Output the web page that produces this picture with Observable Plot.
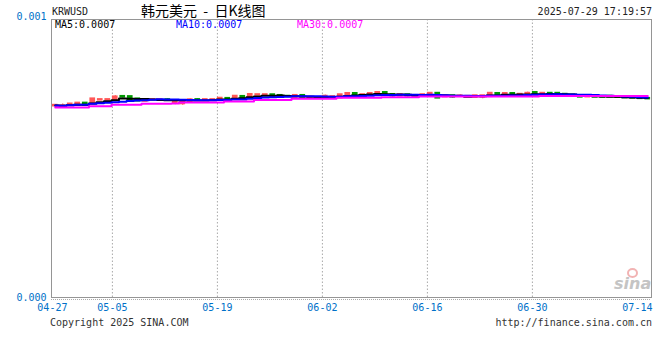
<!DOCTYPE html>
<html><head><meta charset="utf-8">
<script src="https://cdn.jsdelivr.net/npm/d3@7"></script>
<script src="https://cdn.jsdelivr.net/npm/@observablehq/plot@0.6"></script>
<style>
body{margin:0;background:#fff;}
#wrap{position:relative;width:660px;height:360px;overflow:hidden;font-family:"DejaVu Sans Mono",monospace;font-size:10px;color:#222;}
.t{position:absolute;white-space:pre;line-height:12px;}
#chart{position:absolute;left:0;top:0;}
</style></head><body>
<div id="wrap">
  <div id="chart"></div>
  <div class="t" style="left:52px;top:6px;">KRWUSD</div>
  <div class="t" style="left:141px;top:1px;font-family:'Noto Sans CJK SC',sans-serif;font-size:14px;line-height:18px;color:#000;">韩元美元  -  日K线图</div>
  <div class="t" style="right:8px;top:6px;">2025-07-29 17:19:57</div>
  <div class="t" style="left:55px;top:19px;color:#000;">MA5:0.0007</div>
  <div class="t" style="left:176px;top:19px;color:#0000ff;">MA10:0.0007</div>
  <div class="t" style="left:297px;top:19px;color:#ff00ff;">MA30:0.0007</div>
  <div class="t" style="left:50px;top:317px;color:#333;">Copyright 2025 SINA.COM</div>
  <div class="t" style="right:8px;top:317px;color:#333;">http://finance.sina.com.cn</div>
  <div style="position:absolute;left:627px;top:268px;width:7px;height:6px;border:2px solid #f2b3b3;border-radius:50%;"></div>
  <div class="t" style="left:614px;top:276px;font-family:'DejaVu Sans',sans-serif;font-style:italic;font-weight:bold;font-size:16px;line-height:16px;color:#c4c4c4;">sina</div>
</div>
<script>
const dates = [
 "04-27","04-28","04-29","04-30",
 "05-01","05-02","05-03","05-04","05-05","05-06","05-07","05-08","05-09","05-10","05-11","05-12","05-13","05-14","05-15","05-16",
 "05-17","05-18","05-19","05-20","05-21","05-22","05-23","05-24","05-25","05-26","05-27","05-28","05-29","05-30","05-31",
 "06-01","06-02","06-03","06-04","06-05","06-06","06-07","06-08","06-09","06-10","06-11","06-12","06-13","06-14","06-15","06-16",
 "06-17","06-18","06-19","06-20","06-21","06-22","06-23","06-24","06-25","06-26","06-27","06-28","06-29","06-30",
 "07-01","07-02","07-03","07-04","07-05","07-06","07-07","07-08","07-09","07-10","07-11","07-12","07-13","07-14","07-15"
];
const open = [
 0.0006893,0.0006875,0.0006910,0.0006910,0.0006988,0.0006971,0.0007105,0.0007105,0.0007087,0.0007229,
 0.0007222,0.0007140,0.0007062,0.0007105,0.0007105,0.0007112,0.0006988,0.0006971,0.0007062,0.0007115,
 0.0007105,0.0007105,0.0007087,0.0007158,0.0007147,0.0007229,0.0007158,0.0007282,0.0007282,0.0007289,
 0.0007264,0.0007236,0.0007204,0.0007264,0.0007193,0.0007186,0.0007193,0.0007176,0.0007183,0.0007264,
 0.0007335,0.0007253,0.0007282,0.0007299,0.0007370,0.0007299,0.0007253,0.0007289,0.0007264,0.0007253,
 0.0007253,0.0007342,0.0007222,0.0007253,0.0007236,0.0007222,0.0007204,0.0007211,0.0007229,0.0007335,
 0.0007292,0.0007335,0.0007264,0.0007253,0.0007370,0.0007306,0.0007342,0.0007342,0.0007306,0.0007282,
 0.0007253,0.0007218,0.0007222,0.0007218,0.0007236,0.0007211,0.0007200,0.0007186,0.0007193,0.0007158
];
const close = [
 0.0006910,0.0006893,0.0006956,0.0006988,0.0006918,0.0007140,0.0007115,0.0007115,0.0007211,0.0007211,
 0.0007115,0.0007070,0.0007105,0.0007115,0.0007115,0.0007094,0.0007052,0.0007059,0.0007108,0.0007101,
 0.0007115,0.0007115,0.0007165,0.0007137,0.0007236,0.0007168,0.0007299,0.0007292,0.0007292,0.0007229,
 0.0007204,0.0007229,0.0007264,0.0007204,0.0007200,0.0007176,0.0007236,0.0007222,0.0007289,0.0007335,
 0.0007264,0.0007292,0.0007335,0.0007370,0.0007282,0.0007253,0.0007292,0.0007253,0.0007246,0.0007292,
 0.0007342,0.0007176,0.0007253,0.0007211,0.0007250,0.0007232,0.0007253,0.0007253,0.0007342,0.0007264,
 0.0007335,0.0007253,0.0007306,0.0007342,0.0007310,0.0007342,0.0007310,0.0007299,0.0007292,0.0007257,
 0.0007211,0.0007246,0.0007211,0.0007207,0.0007222,0.0007200,0.0007186,0.0007176,0.0007158,0.0007147
];
const high = [
 0.0006928,0.0006964,0.0006964,0.0006999,0.0006999,0.0007158,0.0007123,0.0007123,0.0007264,0.0007264,
 0.0007229,0.0007147,0.0007112,0.0007115,0.0007123,0.0007147,0.0007059,0.0007070,0.0007147,0.0007147,
 0.0007123,0.0007123,0.0007176,0.0007183,0.0007246,0.0007236,0.0007317,0.0007299,0.0007299,0.0007292,
 0.0007271,0.0007264,0.0007271,0.0007271,0.0007207,0.0007193,0.0007282,0.0007229,0.0007299,0.0007345,
 0.0007345,0.0007299,0.0007345,0.0007380,0.0007380,0.0007306,0.0007299,0.0007299,0.0007271,0.0007299,
 0.0007352,0.0007352,0.0007264,0.0007257,0.0007299,0.0007236,0.0007264,0.0007257,0.0007352,0.0007345,
 0.0007345,0.0007345,0.0007317,0.0007388,0.0007377,0.0007352,0.0007352,0.0007352,0.0007310,0.0007289,
 0.0007257,0.0007299,0.0007229,0.0007222,0.0007246,0.0007218,0.0007207,0.0007193,0.0007200,0.0007165
];
const low = [
 0.0006875,0.0006858,0.0006900,0.0006903,0.0006910,0.0006964,0.0007098,0.0007094,0.0007080,0.0007176,
 0.0007105,0.0007059,0.0007059,0.0007101,0.0007101,0.0007062,0.0006935,0.0006910,0.0007059,0.0007077,
 0.0007098,0.0007098,0.0007080,0.0007105,0.0007140,0.0007147,0.0007147,0.0007275,0.0007275,0.0007222,
 0.0007193,0.0007204,0.0007200,0.0007200,0.0007186,0.0007168,0.0007186,0.0007168,0.0007176,0.0007257,
 0.0007257,0.0007246,0.0007275,0.0007292,0.0007264,0.0007204,0.0007246,0.0007211,0.0007236,0.0007246,
 0.0007246,0.0007168,0.0007211,0.0007168,0.0007229,0.0007218,0.0007200,0.0007147,0.0007222,0.0007204,
 0.0007211,0.0007246,0.0007257,0.0007246,0.0007299,0.0007299,0.0007299,0.0007292,0.0007289,0.0007253,
 0.0007204,0.0007204,0.0007204,0.0007200,0.0007218,0.0007193,0.0007183,0.0007168,0.0007151,0.0007140
];
// MA30 as drawn (its window reaches back before the first visible day)
const ma30 = [
 0.0006834,0.0006834,0.0006834,0.0006834,0.0006834,0.0006881,0.0006881,0.0006881,0.0006935,0.0006935,
 0.0006935,0.0006935,0.0006967,0.0006967,0.0006967,0.0006967,0.0006978,0.0007014,0.0007014,0.0007014,
 0.0007014,0.0007014,0.0007014,0.0007050,0.0007050,0.0007050,0.0007050,0.0007104,0.0007104,0.0007104,
 0.0007104,0.0007104,0.0007147,0.0007147,0.0007147,0.0007147,0.0007147,0.0007147,0.0007183,0.0007183,
 0.0007183,0.0007183,0.0007183,0.0007183,0.0007205,0.0007205,0.0007205,0.0007205,0.0007205,0.0007230,
 0.0007230,0.0007230,0.0007230,0.0007230,0.0007230,0.0007230,0.0007230,0.0007230,0.0007230,0.0007230,
 0.0007230,0.0007230,0.0007230,0.0007230,0.0007230,0.0007248,0.0007248,0.0007248,0.0007248,0.0007248,
 0.0007248,0.0007248,0.0007248,0.0007248,0.0007248,0.0007248,0.0007248,0.0007248,0.0007248,0.0007248
];
const tickLabels = ["04-27","05-05","05-19","06-02","06-16","06-30","07-14"];
const gridLabels = ["05-05","05-19","06-02","06-16","06-30"];

const RED = "#ff5757", GREEN = "#009900";
const rows = dates.map((d, i) => ({
  date: d, i, mid: i + 0.5, x1: i + 0.12, x2: i + 0.88,
  open: open[i], close: close[i], high: high[i], low: low[i], ma30: ma30[i],
  color: close[i] >= open[i] ? RED : GREEN
}));
const tickRows = tickLabels.map(l => ({label: l, pos: dates.indexOf(l) + 0.12}));
const gridRows = gridLabels.map(l => ({label: l, pos: dates.indexOf(l) + 0.12}));

const ma = (k, color) => Plot.lineY(rows, Plot.windowY(
  {k, anchor: "end", reduce: "mean", strict: false},
  {x: "mid", y: "close", stroke: color, strokeWidth: 2, curve: "step"}));

const axisStyle = {tickFormat: d3.format(".3f"), tickSize: 0, tickPadding: 5, fill: "#0070c8", fontSize: 10, label: null};

const chart = Plot.plot({
  width: 660, height: 360,
  marginLeft: 51, marginRight: 9, marginTop: 19, marginBottom: 63,
  style: {fontFamily: "'DejaVu Sans Mono', monospace", fontSize: "10px", background: "transparent", overflow: "visible"},
  x: {type: "linear", domain: [0, dates.length], axis: null},
  y: {domain: [0, 0.001], axis: null},
  marks: [
    Plot.ruleX(gridRows, {x: "pos", stroke: "#a8a8a8", strokeDasharray: "1.5,2"}),
    Plot.ruleX(rows, {x: "mid", y1: "low", y2: "high", stroke: "color", strokeWidth: 1}),
    Plot.rect(rows, {x1: "x1", x2: "x2", y1: "open", y2: "close", fill: "color", insetTop: -1.1, insetBottom: -1.1}),
    ma(5, "#000000"),
    ma(10, "#0000ff"),
    Plot.lineY(rows, {x: "mid", y: "ma30", stroke: "#ff00ff", strokeWidth: 2, curve: "step"}),
    Plot.frame({stroke: "#959595"}),
    Plot.ruleY([0], {stroke: "#aaa", strokeDasharray: "1,1", dy: 2}),
    Plot.axisY([0.001], {...axisStyle, dy: -3}),
    Plot.axisY([0], axisStyle),
    Plot.text(tickRows, {x: "pos", text: "label", frameAnchor: "bottom", dy: 13, fill: "#0070c8", fontSize: 10})
  ]
});
document.getElementById("chart").appendChild(chart);
</script>
</body></html>
